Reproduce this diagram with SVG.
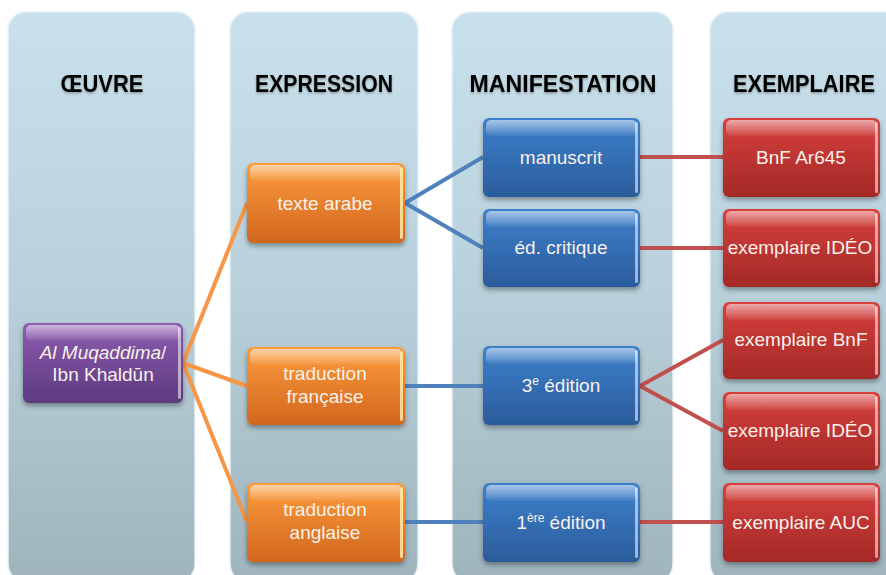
<svg xmlns="http://www.w3.org/2000/svg" width="886" height="575" viewBox="0 0 886 575">
<defs>
  <linearGradient id="colG" x1="0" y1="0" x2="0" y2="1">
    <stop offset="0" stop-color="#c9e1ec"/>
    <stop offset="0.5" stop-color="#b8d0da"/>
    <stop offset="1" stop-color="#9fb4bd"/>
  </linearGradient>
  <linearGradient id="orG" x1="0" y1="0" x2="0" y2="1">
    <stop offset="0" stop-color="#fb9b3c"/>
    <stop offset="1" stop-color="#d2661e"/>
  </linearGradient>
  <linearGradient id="blG" x1="0" y1="0" x2="0" y2="1">
    <stop offset="0" stop-color="#3d80cc"/>
    <stop offset="1" stop-color="#2b5c9c"/>
  </linearGradient>
  <linearGradient id="rdG" x1="0" y1="0" x2="0" y2="1">
    <stop offset="0" stop-color="#d6403d"/>
    <stop offset="1" stop-color="#a42927"/>
  </linearGradient>
  <linearGradient id="puG" x1="0" y1="0" x2="0" y2="1">
    <stop offset="0" stop-color="#8e5cb0"/>
    <stop offset="1" stop-color="#5d3a80"/>
  </linearGradient>
  <linearGradient id="gloss" x1="0" y1="0" x2="0" y2="1">
    <stop offset="0" stop-color="#ffffff" stop-opacity="0.55"/>
    <stop offset="1" stop-color="#ffffff" stop-opacity="0.05"/>
  </linearGradient>
  <filter id="sh" x="-10%" y="-10%" width="125%" height="135%">
    <feDropShadow dx="0" dy="3" stdDeviation="2.5" flood-color="#000" flood-opacity="0.35"/>
  </filter>
  <filter id="colSh" x="-5%" y="-5%" width="110%" height="110%">
    <feDropShadow dx="0" dy="0" stdDeviation="2" flood-color="#ffffff" flood-opacity="0.9"/>
  </filter>
  <filter id="hsh" x="-5%" y="-20%" width="110%" height="160%">
    <feDropShadow dx="0" dy="1.5" stdDeviation="1" flood-color="#000" flood-opacity="0.3"/>
  </filter>
</defs>
<style>
  .col { fill: url(#colG); stroke: #e6f2f7; stroke-width: 1.5; }
  .hdr { font-family: "Liberation Sans", Arial, sans-serif; font-weight: bold; font-size: 23px; fill: #000; text-anchor: middle; }
  .lbl { font-family: "Liberation Sans", Arial, sans-serif; font-size: 19px; fill: #f7f1ea; text-anchor: middle; }
  .gl { fill: url(#gloss); }
  .edge { fill: #ffffff; opacity: 0.55; }
  .or { fill: url(#orG); }
  .bl { fill: url(#blG); }
  .rd { fill: url(#rdG); }
  .pu { fill: url(#puG); }
  .cOr { stroke: #f79646; stroke-width: 4; fill: none; }
  .cBl { stroke: #4f81bd; stroke-width: 4; fill: none; }
  .cRd { stroke: #c0504d; stroke-width: 4; fill: none; }
  .sup { font-size: 12px; }
</style>

<g id="columns">
  <g id="col-oeuvre">
    <rect class="col" x="8" y="12" width="187" height="570" rx="18" filter="url(#colSh)"/>
    <text class="hdr" x="102" y="92" textLength="83" lengthAdjust="spacingAndGlyphs" filter="url(#hsh)">ŒUVRE</text>
  </g>
  <g id="col-expression">
    <rect class="col" x="230" y="12" width="188" height="570" rx="18" filter="url(#colSh)"/>
    <text class="hdr" x="324" y="92" textLength="138" lengthAdjust="spacingAndGlyphs" filter="url(#hsh)">EXPRESSION</text>
  </g>
  <g id="col-manifestation">
    <rect class="col" x="452" y="12" width="221" height="570" rx="18" filter="url(#colSh)"/>
    <text class="hdr" x="563" y="92" textLength="187" lengthAdjust="spacingAndGlyphs" filter="url(#hsh)">MANIFESTATION</text>
  </g>
  <g id="col-exemplaire">
    <rect class="col" x="710" y="12" width="200" height="570" rx="18" filter="url(#colSh)"/>
    <text class="hdr" x="804" y="92" textLength="142" lengthAdjust="spacingAndGlyphs" filter="url(#hsh)">EXEMPLAIRE</text>
  </g>
</g>

<g id="connectors">
  <path class="cOr" d="M183,363 L247,203"/>
  <path class="cOr" d="M183,363 L247,386"/>
  <path class="cOr" d="M183,363 L247,522"/>
  <path class="cBl" d="M405,203 L483,157"/>
  <path class="cBl" d="M405,203 L483,248"/>
  <path class="cBl" d="M405,386 L483,386"/>
  <path class="cBl" d="M405,522 L483,522"/>
  <path class="cRd" d="M640,157 L723,157"/>
  <path class="cRd" d="M640,248 L723,248"/>
  <path class="cRd" d="M640,386 L723,340"/>
  <path class="cRd" d="M640,386 L723,431"/>
  <path class="cRd" d="M640,522 L723,522"/>
</g>

<g id="oeuvre">
  <rect class="pu" x="23" y="323" width="160" height="80" rx="6" filter="url(#sh)"/>
  <rect class="gl" x="26" y="325" width="154" height="16" rx="5"/>
  <rect class="edge" x="178" y="327" width="3" height="72" rx="1.5"/>
  <text class="lbl" x="103" y="359"><tspan font-style="italic">Al Muqaddima</tspan>/</text>
  <text class="lbl" x="103" y="381">Ibn Khaldūn</text>
</g>

<g id="expr-arabe">
  <rect class="or" x="247" y="163" width="158" height="80" rx="6" filter="url(#sh)"/>
  <rect class="gl" x="250" y="165" width="152" height="16" rx="5"/>
  <rect class="edge" x="400" y="167" width="3" height="72" rx="1.5" style="fill:#fff3b0;opacity:0.8"/>
  <text class="lbl" x="325" y="210">texte arabe</text>
</g>
<g id="expr-francaise">
  <rect class="or" x="247" y="347" width="158" height="78" rx="6" filter="url(#sh)"/>
  <rect class="gl" x="250" y="349" width="152" height="16" rx="5"/>
  <rect class="edge" x="400" y="351" width="3" height="70" rx="1.5" style="fill:#fff3b0;opacity:0.8"/>
  <text class="lbl" x="325" y="380">traduction</text>
  <text class="lbl" x="325" y="403">française</text>
</g>
<g id="expr-anglaise">
  <rect class="or" x="247" y="483" width="158" height="79" rx="6" filter="url(#sh)"/>
  <rect class="gl" x="250" y="485" width="152" height="16" rx="5"/>
  <rect class="edge" x="400" y="487" width="3" height="71" rx="1.5" style="fill:#fff3b0;opacity:0.8"/>
  <text class="lbl" x="325" y="516">traduction</text>
  <text class="lbl" x="325" y="539">anglaise</text>
</g>

<g id="man-manuscrit">
  <rect class="bl" x="483" y="118" width="157" height="79" rx="6" filter="url(#sh)"/>
  <rect class="gl" x="486" y="120" width="151" height="16" rx="5"/>
  <rect class="edge" x="635" y="122" width="3" height="71" rx="1.5"/>
  <text class="lbl" x="561" y="164">manuscrit</text>
</g>
<g id="man-critique">
  <rect class="bl" x="483" y="209" width="157" height="78" rx="6" filter="url(#sh)"/>
  <rect class="gl" x="486" y="211" width="151" height="16" rx="5"/>
  <rect class="edge" x="635" y="213" width="3" height="70" rx="1.5"/>
  <text class="lbl" x="561" y="254">éd. critique</text>
</g>
<g id="man-3e">
  <rect class="bl" x="483" y="346" width="157" height="79" rx="6" filter="url(#sh)"/>
  <rect class="gl" x="486" y="348" width="151" height="16" rx="5"/>
  <rect class="edge" x="635" y="350" width="3" height="71" rx="1.5"/>
  <text class="lbl" x="561" y="392">3<tspan class="sup" dy="-7">e</tspan><tspan dy="7"> édition</tspan></text>
</g>
<g id="man-1ere">
  <rect class="bl" x="483" y="483" width="157" height="79" rx="6" filter="url(#sh)"/>
  <rect class="gl" x="486" y="485" width="151" height="16" rx="5"/>
  <rect class="edge" x="635" y="487" width="3" height="71" rx="1.5"/>
  <text class="lbl" x="561" y="529">1<tspan class="sup" dy="-7">ère</tspan><tspan dy="7"> édition</tspan></text>
</g>

<g id="ex-ar645">
  <rect class="rd" x="723" y="118" width="157" height="79" rx="6" filter="url(#sh)"/>
  <rect class="gl" x="726" y="120" width="151" height="16" rx="5"/>
  <rect class="edge" x="875" y="122" width="3" height="71" rx="1.5"/>
  <text class="lbl" x="801" y="164">BnF Ar645</text>
</g>
<g id="ex-ideo1">
  <rect class="rd" x="723" y="209" width="157" height="78" rx="6" filter="url(#sh)"/>
  <rect class="gl" x="726" y="211" width="151" height="16" rx="5"/>
  <rect class="edge" x="875" y="213" width="3" height="70" rx="1.5"/>
  <text class="lbl" x="800" y="254">exemplaire IDÉO</text>
</g>
<g id="ex-bnf">
  <rect class="rd" x="723" y="302" width="157" height="77" rx="6" filter="url(#sh)"/>
  <rect class="gl" x="726" y="304" width="151" height="16" rx="5"/>
  <rect class="edge" x="875" y="306" width="3" height="69" rx="1.5"/>
  <text class="lbl" x="801" y="346">exemplaire BnF</text>
</g>
<g id="ex-ideo2">
  <rect class="rd" x="723" y="392" width="157" height="78" rx="6" filter="url(#sh)"/>
  <rect class="gl" x="726" y="394" width="151" height="16" rx="5"/>
  <rect class="edge" x="875" y="396" width="3" height="70" rx="1.5"/>
  <text class="lbl" x="800" y="437">exemplaire IDÉO</text>
</g>
<g id="ex-auc">
  <rect class="rd" x="723" y="483" width="157" height="79" rx="6" filter="url(#sh)"/>
  <rect class="gl" x="726" y="485" width="151" height="16" rx="5"/>
  <rect class="edge" x="875" y="487" width="3" height="71" rx="1.5"/>
  <text class="lbl" x="801" y="529">exemplaire AUC</text>
</g>
</svg>
